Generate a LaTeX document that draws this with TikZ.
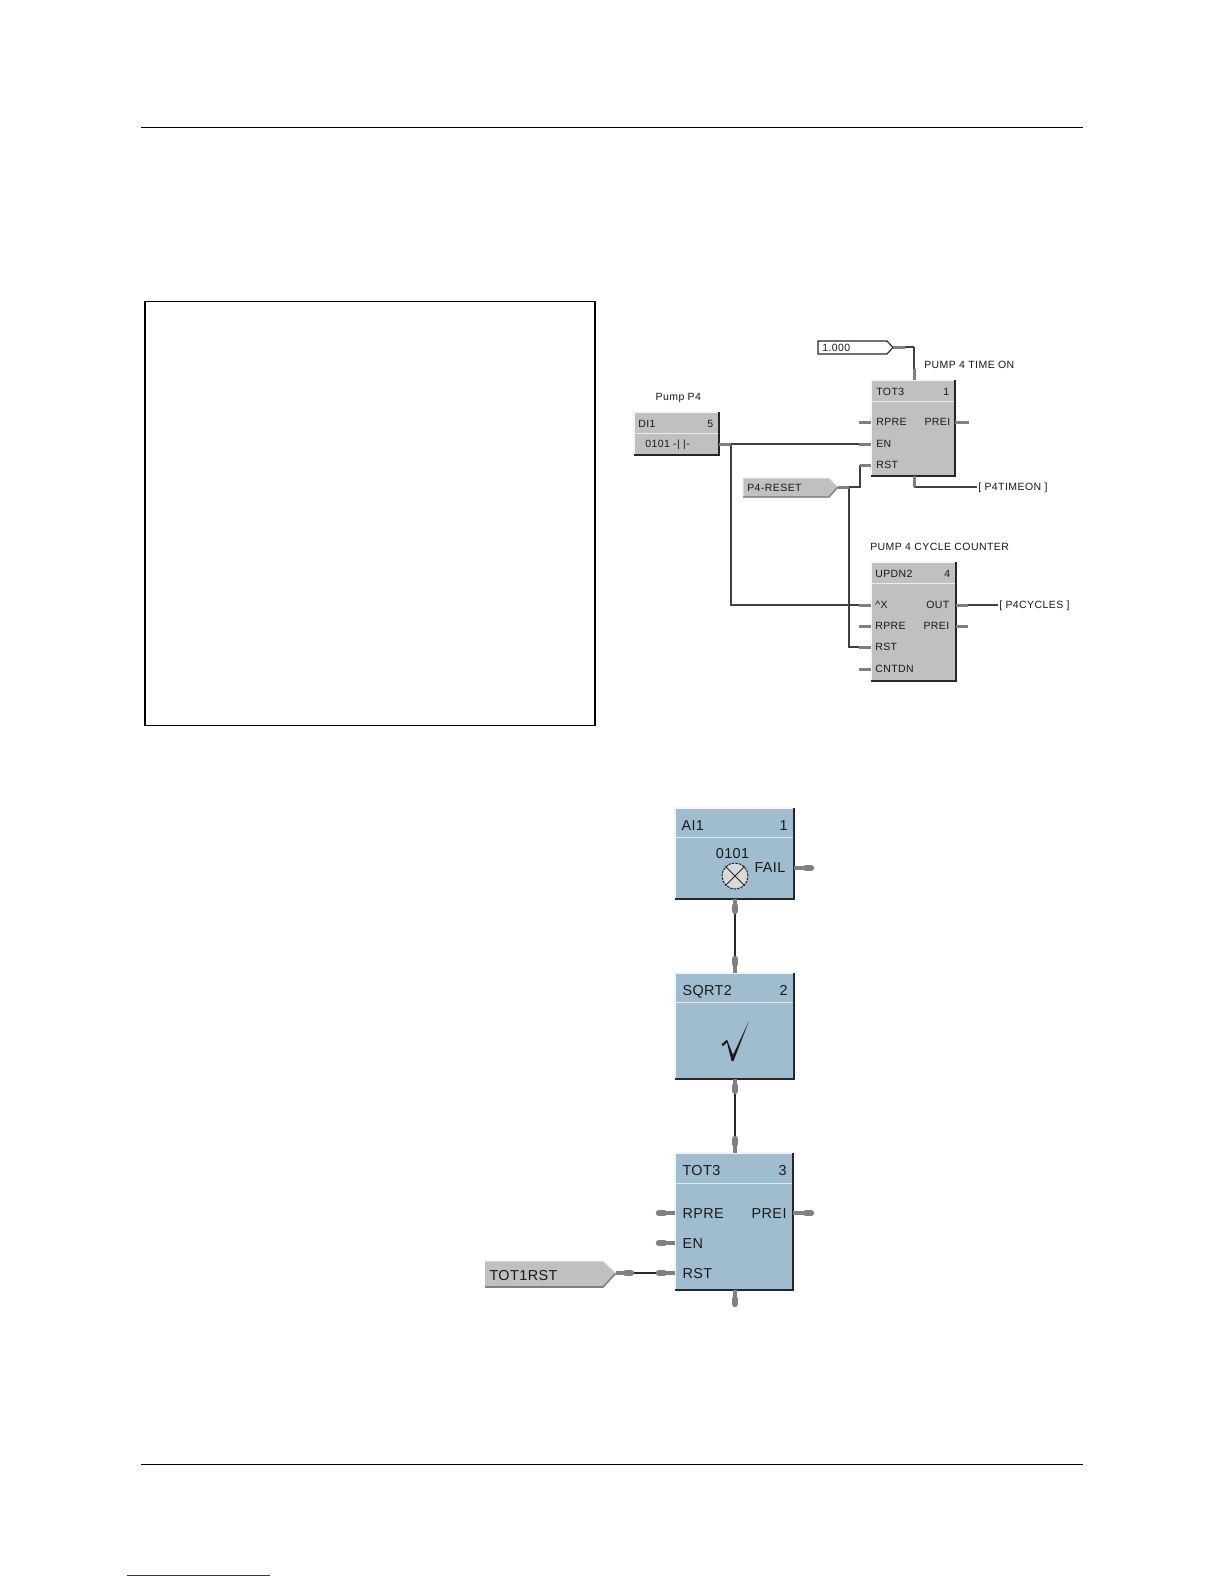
\documentclass[tikz,border=0pt]{standalone}
\usepackage{fontspec}
\usetikzlibrary{calc}
\setmainfont{Liberation Sans}
\newfontfamily\diagfont[LetterSpace=3]{Liberation Sans}
\newfontfamily\smalldiagfont[LetterSpace=4]{Liberation Sans}
\definecolor{blockgray}{HTML}{C0C0C0}
\definecolor{blockblue}{HTML}{A0BDD0}
\definecolor{tipgray}{HTML}{808080}
\definecolor{wiredark}{HTML}{404040}
\definecolor{linkblue}{HTML}{2A2AB0}
\tikzset{
  blockshape/.style={inner sep=0pt,outer sep=0pt,anchor=north west,draw=none},
  smalltext/.style={inner sep=0pt,outer sep=0pt,anchor=west,xshift=-0.7pt,yshift=0.4pt,text height=8pt,text depth=0pt,font=\smalldiagfont\fontsize{10.5}{12}\selectfont,text=black!90},
  smallright/.style={smalltext,anchor=east},
  bigtext/.style={inner sep=0pt,outer sep=0pt,anchor=west,xshift=-0.5pt,text height=11pt,text depth=0pt,font=\diagfont\fontsize{14.4}{17}\selectfont,text=black!90},
  bigright/.style={bigtext,anchor=east},
  wire/.style={draw=wiredark,line width=1.15pt},
  wirethin/.style={draw=black!85,line width=1.15pt},
  stubs/.style={draw=tipgray,line width=3pt},
  stubb/.style={draw=tipgray,line width=3.4pt},
  stubend/.style={draw=tipgray,line width=6.5pt,line cap=round},
  rule/.style={draw=black,line width=0.9pt},
}
% name, x, y, w, h, fill, header y, dark-edge width
\newcommand{\blockbox}[8]{%
  \node[blockshape,fill=#6,minimum width=#4pt,minimum height=#5pt] (#1) at (#2,#3) {};
  \draw[white!85!#6,line width=1.2pt] (#1.south west) -- (#1.north west) -- (#1.north east);
  \draw[black!85,line width=#8pt] (#1.south west) -- (#1.south east) -- (#1.north east);
  \draw[white!70!#6,line width=1pt] (#2+1,#7) -- (#2+#4-1,#7);
}
\begin{document}
\begin{tikzpicture}[x=1pt,y=-1pt]
\useasboundingbox (0,0) rectangle (1224,1584);
\fill[white] (0,0) rectangle (1224,1584);
% page rules
\coordinate (rta) at (141,127); \coordinate (rtb) at (1083,127);
\coordinate (rba) at (141,1464); \coordinate (rbb) at (1083,1464);
\coordinate (fa) at (127,1575); \coordinate (fb) at (270,1575);
\draw[rule] (rta) -- (rtb);
\draw[rule] (rba) -- (rbb);
\draw[linkblue,line width=0.9pt] (fa) -- (fb);
% empty framed box
\node[blockshape,draw=black,line width=1.1pt,minimum width=450pt,minimum height=424pt] (frame) at (145,301.5) {};

% ---------- top diagram ----------
\blockbox{diblk}{634}{412}{85}{43}{blockgray}{433}{1.4}
\blockbox{totblk}{871}{380}{84}{96}{blockgray}{401}{1.4}
\blockbox{updblk}{871}{562}{85}{119}{blockgray}{583}{1.4}
\node[smalltext] (ldi) at (639,424) {DI1};
\node[smallright] (ldin) at (714,424) {5};
\node[smalltext] (ldis) at (646,444) {0101 -| |-};
\node[smalltext,anchor=center] (lpump) at (679,397) {Pump P4};
\node[smalltext] (ltop) at (925,365) {PUMP 4 TIME ON};
\node[smalltext] (ltot) at (877,392) {TOT3};
\node[smallright] (ltotn) at (950,392) {1};
\node[smalltext] (lrpre) at (877,422) {RPRE};
\node[smallright] (lprei) at (951,422) {PREI};
\node[smalltext] (len) at (877,444) {EN};
\node[smalltext] (lrst) at (877,465) {RST};
\node[smalltext] (lbr) at (979,487) {[ P4TIMEON ]};
\node[smalltext] (lcnt) at (871,547) {PUMP 4 CYCLE COUNTER};
\node[smalltext] (lupd) at (876,574) {UPDN2};
\node[smallright] (lupdn) at (951,574) {4};
\node[smalltext] (lx) at (876,605) {\^{}X};
\node[smallright] (lout) at (950,605) {OUT};
\node[smalltext] (lrpre2) at (876,626) {RPRE};
\node[smallright] (lprei2) at (950,626) {PREI};
\node[smalltext] (lrst2) at (876,647) {RST};
\node[smalltext] (lcd) at (876,669) {CNTDN};
\node[smalltext] (lbr2) at (1000,605) {[ P4CYCLES ]};
% tags
\draw[black!85,line width=1.1pt,fill=white] (818,341) -- (887,341) -- (893,347.5) -- (887,354) -- (818,354) -- cycle;
\node[smalltext] (lone) at (823,347.5) {1.000};
\fill[blockgray] (743,478) -- (829,478) -- (838,487) -- (829,497) -- (743,497) -- cycle;
\draw[white!60!blockgray,line width=1pt] (743,497) -- (743,478) -- (829,478) -- (838,487);
\draw[black!55,line width=1.2pt] (743,497) -- (829,497) -- (838,487);
\node[smalltext] (lreset) at (748,488) {P4-RESET};
% ports
\coordinate (oneo) at (893,347); \coordinate (onek) at (905,347); \coordinate (onec) at (914,347);
\coordinate (totIn) at (914,380); \coordinate (totIs) at (914,369);
\coordinate (totO) at (914,476); \coordinate (totOs) at (914,487); \coordinate (totOe) at (977,487);
\coordinate (rpreA) at (871,422); \coordinate (rpreB) at (859,422);
\coordinate (preiA) at (955,422); \coordinate (preiB) at (969,422);
\coordinate (enA) at (871,444); \coordinate (enB) at (859,444);
\coordinate (rstA) at (871,465); \coordinate (rstB) at (860,465);
\coordinate (diA) at (719,444); \coordinate (diB) at (731,444);
\coordinate (setA) at (838,487); \coordinate (setB) at (849,487); \coordinate (setC) at (860,487);
\coordinate (xA) at (871,605); \coordinate (xB) at (859,605); \coordinate (xC) at (731,605);
\coordinate (rp2A) at (871,626); \coordinate (rp2B) at (859,626);
\coordinate (r2A) at (871,647); \coordinate (r2B) at (859,647); \coordinate (r2C) at (849,647);
\coordinate (cdA) at (871,669); \coordinate (cdB) at (859,669);
\coordinate (outA) at (956,605); \coordinate (outB) at (968,605); \coordinate (outC) at (998,605);
\coordinate (pr2A) at (956,626); \coordinate (pr2B) at (968,626);
% wires
\draw[wire] (onec) -- (oneo);
\draw[wire] (onec) -- (totIs);
\draw[wire] (totOs) -- (totOe);
\draw[wire] (diB) -- (enB);
\draw[wire] (diB) -- (xC) -- (xB);
\draw[wire] (setB) -- (setC) -- (rstB);
\draw[wire] (setB) -- (r2C) -- (r2B);
\draw[wire] (outB) -- (outC);
% stubs
\draw[stubs] (oneo) -- (onek);
\draw[stubs] (totIn) -- (totIs);
\draw[stubs] (totO) -- (totOs);
\draw[stubs] (rpreA) -- (rpreB);
\draw[stubs] (preiA) -- (preiB);
\draw[stubs] (enA) -- (enB);
\draw[stubs] (rstA) -- (rstB);
\draw[stubs] (diA) -- (diB);
\draw[stubs] (setA) -- (setB);
\draw[stubs] (xA) -- (xB);
\draw[stubs] (rp2A) -- (rp2B);
\draw[stubs] (r2A) -- (r2B);
\draw[stubs] (cdA) -- (cdB);
\draw[stubs] (outA) -- (outB);
\draw[stubs] (pr2A) -- (pr2B);

% ---------- bottom diagram ----------
\blockbox{aiblk}{675}{808}{119}{91}{blockblue}{837}{2}
\blockbox{sqblk}{675}{973}{119}{106}{blockblue}{1002}{2}
\blockbox{tbblk}{675}{1153}{118}{137}{blockblue}{1183}{2}
\node[bigtext] (lai) at (682,825) {AI1};
\node[bigright] (lain) at (788,825) {1};
\node[bigtext,anchor=center] (lainum) at (733,853) {0101};
\node[bigtext] (lfail) at (755,867) {FAIL};
\node[bigtext] (lsq) at (683,990) {SQRT2};
\node[bigright] (lsqn) at (788,990) {2};
\node[bigtext] (ltb) at (683,1170) {TOT3};
\node[bigright] (ltbn) at (787,1170) {3};
\node[bigtext] (lrb) at (683,1213) {RPRE};
\node[bigright] (lpb) at (787,1213) {PREI};
\node[bigtext] (leb) at (683,1243) {EN};
\node[bigtext] (lsb) at (683,1273) {RST};
% lamp
\node[circle,draw=black!85,dash pattern=on 2.5pt off 1pt,line width=1pt,fill=black!15,minimum size=26pt,inner sep=0pt] (lamp) at (735,876) {};
\draw[black!85,line width=1pt] (lamp.north west) -- (lamp.south east);
\draw[black!85,line width=1pt] (lamp.north east) -- (lamp.south west);
% check mark
\fill[black!90] (721.5,1044.5) -- (727,1039.5) -- (733,1055) -- (749,1021) -- (733.5,1061) -- (731.5,1061) -- (727,1042.5) -- (723,1046) -- cycle;
% tag
\fill[blockgray] (485,1261) -- (603,1261) -- (616,1273) -- (603,1287) -- (485,1287) -- cycle;
\draw[black!50,line width=1.6pt] (485,1287) -- (603,1287) -- (616,1273);
\draw[white!60!blockgray,line width=1pt] (485,1261) -- (603,1261) -- (616,1273);
\node[bigtext] (ltag) at (490,1275) {TOT1RST};
% ports
\coordinate (aiO) at (735,899); \coordinate (aiOs) at (735,911);
\coordinate (sqI) at (735,973); \coordinate (sqIs) at (735,959);
\coordinate (sqO) at (735,1079); \coordinate (sqOs) at (735,1091);
\coordinate (tbI) at (735,1153); \coordinate (tbIs) at (735,1139);
\coordinate (tbO) at (735,1290); \coordinate (tbOs) at (735,1304);
\coordinate (failA) at (794,868); \coordinate (failB) at (811,868);
\coordinate (tprA) at (793,1213); \coordinate (tprB) at (811,1213);
\coordinate (trpA) at (675,1213); \coordinate (trpB) at (659,1213);
\coordinate (tenA) at (675,1243); \coordinate (tenB) at (659,1243);
\coordinate (trsA) at (675,1273); \coordinate (trsB) at (659,1273);
\coordinate (tagA) at (616,1273); \coordinate (tagB) at (631,1273);
\draw[wirethin] (aiOs) -- (sqIs);
\draw[wirethin] (sqOs) -- (tbIs);
\draw[wirethin] (tagB) -- (trsB);
\foreach \a/\b in {aiO/aiOs,sqI/sqIs,sqO/sqOs,tbI/tbIs,tbO/tbOs,failA/failB,tprA/tprB,trpA/trpB,tenA/tenB,trsA/trsB,tagA/tagB}{
  \draw[stubb] (\a) -- (\b);
  \draw[stubend] (\b) -- ($(\b)!5pt!(\a)$);
}
\end{tikzpicture}
\end{document}
